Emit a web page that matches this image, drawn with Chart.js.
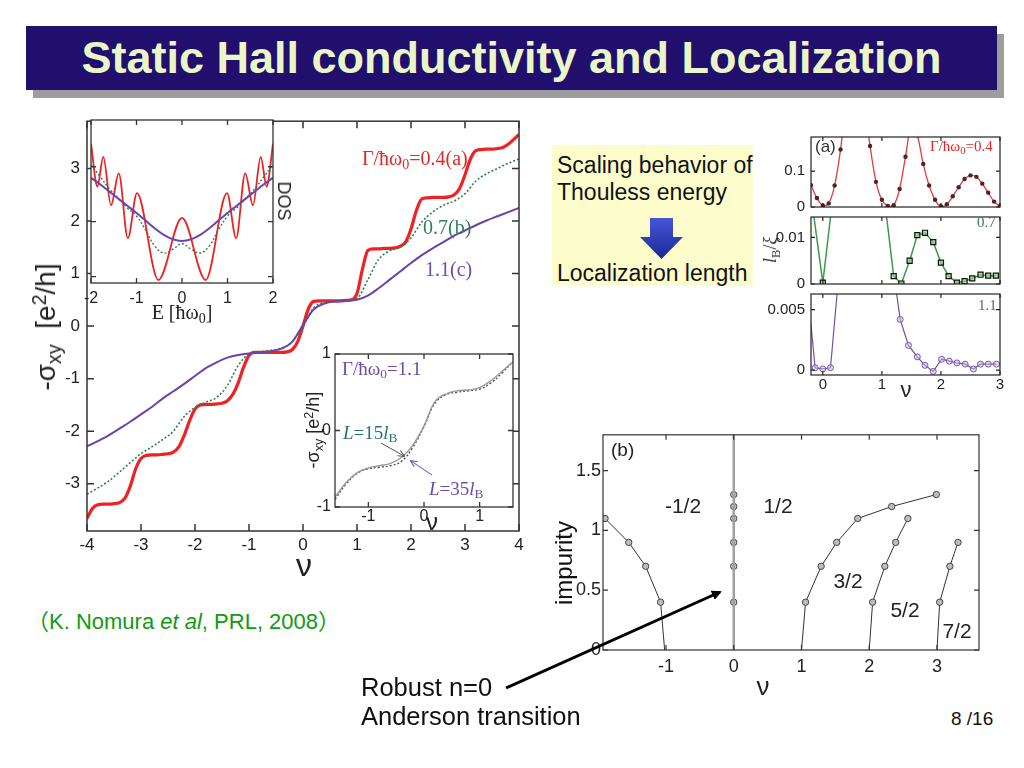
<!DOCTYPE html>
<html><head><meta charset="utf-8">
<script src="https://cdn.jsdelivr.net/npm/chart.js@4.4.0/dist/chart.umd.min.js"></script>
<style>
body{margin:0;width:1024px;height:768px;background:#fff;position:relative;overflow:hidden;font-family:"Liberation Sans",Arial,sans-serif;}
canvas{position:absolute;}
.t{position:absolute;white-space:nowrap;line-height:1;}
.c{transform:translate(-50%,-50%);}
.l{transform:translateY(-50%);}
.serif{font-family:"Liberation Serif","Times New Roman",serif;}
sub{font-size:0.7em;vertical-align:-0.3em;line-height:0;}
sup{font-size:0.7em;vertical-align:0.45em;line-height:0;}
#title{position:absolute;left:26px;top:26px;width:971px;height:64px;background:#200f6c;box-shadow:7px 8px 0 #9d9d9d;color:#eaf6c8;font-weight:bold;font-size:45px;text-align:center;line-height:64px;}
#box{position:absolute;left:552px;top:145px;width:201px;height:140px;background:#fdfdcb;}
</style></head><body>
<div id="title">Static Hall conductivity and Localization</div>

<canvas id="cMain" width="492" height="460" style="left:40px;top:104px"></canvas>
<canvas id="cDos" width="215" height="206" style="left:70px;top:110px"></canvas>
<canvas id="cIns" width="230" height="190" style="left:296px;top:340px"></canvas>
<canvas id="cA1" width="246" height="100" style="left:766px;top:122px"></canvas>
<canvas id="cA2" width="246" height="97" style="left:766px;top:202px"></canvas>
<canvas id="cA3" width="246" height="118" style="left:766px;top:279px"></canvas>
<canvas id="cB" width="440" height="255" style="left:552px;top:422px"></canvas>

<div id="box"></div>
<div class="t l" style="left:557px;top:165px;font-size:23px;color:#111">Scaling behavior of</div>
<div class="t l" style="left:557px;top:192px;font-size:23px;color:#111">Thouless energy</div>
<div class="t l" style="left:557px;top:273px;font-size:23px;color:#111">Localization length</div>

<!-- main chart texts -->
<div class="t c" style="left:46px;top:327px;font-size:28px;color:#222;transform:translate(-50%,-50%) rotate(-90deg)">-σ<sub>xy</sub>&nbsp; [e<sup>2</sup>/h]</div>
<div class="t c" style="left:304px;top:565px;font-size:32px;color:#222">ν</div>
<div class="t l serif" style="left:362px;top:158px;font-size:20px;color:#e02828">Γ/ħω<sub>0</sub>=0.4(a)</div>
<div class="t l serif" style="left:423px;top:227px;font-size:20px;color:#2f7f55">0.7(b)</div>
<div class="t l serif" style="left:425px;top:269px;font-size:20px;color:#6c4cab">1.1(c)</div>
<!-- DOS inset texts -->
<div class="t c serif" style="left:182px;top:312px;font-size:20px;color:#222">E [ħω<sub>0</sub>]</div>
<div class="t c" style="left:284px;top:201px;font-size:18px;color:#222;transform:translate(-50%,-50%) rotate(90deg)">DOS</div>
<!-- inset 2 texts -->
<div class="t l serif" style="left:342px;top:368px;font-size:19px;color:#6c4cab">Γ/ħω<sub>0</sub>=1.1</div>
<div class="t l serif" style="left:343px;top:432px;font-size:19px;color:#2b6f7c"><i>L</i>=15<i>l</i><sub>B</sub></div>
<div class="t l serif" style="left:429px;top:488px;font-size:19px;color:#6c4cab"><i>L</i>=35<i>l</i><sub>B</sub></div>
<div class="t c" style="left:313px;top:430px;font-size:18px;color:#222;transform:translate(-50%,-50%) rotate(-90deg)">-σ<sub>xy</sub> [e<sup>2</sup>/h]</div>
<div class="t c" style="left:432px;top:522px;font-size:24px;color:#222">ν</div>
<!-- panel (a) texts -->
<div class="t l" style="left:815px;top:146px;font-size:17px;color:#333">(a)</div>
<div class="t l serif" style="left:930px;top:146px;font-size:15px;color:#e02828">Γ/ħω<sub>0</sub>=0.4</div>
<div class="t l serif" style="left:977px;top:222px;font-size:15px;color:#2f7f55">0.7</div>
<div class="t l serif" style="left:978px;top:305px;font-size:15px;color:#6c4cab">1.1</div>
<div class="t c serif" style="left:770px;top:250px;font-size:18px;color:#333;transform:translate(-50%,-50%) rotate(-90deg)"><i>l</i><sub>B</sub>/<i>ξ</i></div>
<div class="t c" style="left:906px;top:390px;font-size:22px;color:#222">ν</div>
<!-- panel (b) texts -->
<div class="t l" style="left:611px;top:449px;font-size:19px;color:#222">(b)</div>
<div class="t c" style="left:683px;top:505px;font-size:21px;color:#222">-1/2</div>
<div class="t c" style="left:778px;top:505px;font-size:21px;color:#222">1/2</div>
<div class="t c" style="left:848px;top:580px;font-size:21px;color:#222">3/2</div>
<div class="t c" style="left:905px;top:609px;font-size:21px;color:#222">5/2</div>
<div class="t c" style="left:957px;top:630px;font-size:21px;color:#222">7/2</div>
<div class="t c" style="left:763px;top:686px;font-size:26px;color:#222">ν</div>
<div class="t c" style="left:564px;top:563px;font-size:24px;color:#111;background:#fff;padding:0 2px;transform:translate(-50%,-50%) rotate(-90deg)">impurity</div>

<div class="t l" style="left:27px;top:622px;font-size:22px;color:#119a11;font-family:'Liberation Sans','Noto Sans CJK JP',sans-serif">（K. Nomura <i>et al</i>, PRL, 2008）</div>
<div class="t l" style="left:361px;top:688px;font-size:25.5px;color:#111">Robust n=0</div>
<div class="t l" style="left:361px;top:717px;font-size:25.5px;color:#111">Anderson transition</div>
<div class="t l" style="left:951px;top:718px;font-size:19px;color:#111">8 /16</div>

<svg width="1024" height="768" style="position:absolute;left:0;top:0;pointer-events:none">
<defs>
<marker id="ah" markerWidth="10" markerHeight="10" refX="8" refY="5" orient="auto" markerUnits="userSpaceOnUse"><path d="M0,0 L10,5 L0,10 z" fill="#000"/></marker>
<marker id="ahs" markerWidth="7" markerHeight="7" refX="6" refY="3.5" orient="auto" markerUnits="userSpaceOnUse"><path d="M0,0.5 L7,3.5 L0,6.5" fill="none" stroke="#555" stroke-width="1"/></marker>
<marker id="ahp" markerWidth="7" markerHeight="7" refX="6" refY="3.5" orient="auto" markerUnits="userSpaceOnUse"><path d="M0,0.5 L7,3.5 L0,6.5" fill="none" stroke="#6c4cab" stroke-width="1"/></marker>
<linearGradient id="bg" x1="0" y1="0" x2="0" y2="1"><stop offset="0" stop-color="#4656d6"/><stop offset="1" stop-color="#1b2896"/></linearGradient>
</defs>
<polygon points="650,218 673,218 673,237 683,237 661.5,259 640,237 650,237" fill="url(#bg)"/>
<line x1="506" y1="688" x2="720" y2="592" stroke="#000" stroke-width="3" marker-end="url(#ah)"/>
<line x1="381" y1="443" x2="404" y2="456" stroke="#555" stroke-width="1" marker-end="url(#ahs)"/>
<line x1="432" y1="475" x2="411" y2="461" stroke="#6c4cab" stroke-width="1" marker-end="url(#ahp)"/>
</svg>

<script>
// ---------- main chart: -sigma_xy vs nu ----------
const nuFine = [-4.0,-3.9,-3.8,-3.7,-3.6,-3.5,-3.4,-3.3,-3.2,-3.1,-3.0,-2.9,-2.8,-2.7,-2.6,-2.5,-2.4,-2.3,-2.2,-2.1,-2.0,-1.9,-1.8,-1.7,-1.6,-1.5,-1.4,-1.3,-1.2,-1.1,-1.0,-0.9,-0.8,-0.7,-0.6,-0.5,-0.4,-0.3,-0.2,-0.1,0.0,0.1,0.2,0.3,0.4,0.5,0.6,0.7,0.8,0.9,1.0,1.1,1.2,1.3,1.4,1.5,1.6,1.7,1.8,1.9,2.0,2.1,2.2,2.3,2.4,2.5,2.6,2.7,2.8,2.9,3.0,3.1,3.2,3.3,3.4,3.5,3.6,3.7,3.8,3.9,4.0];
const sigmaRed = [-3.66,-3.47,-3.40,-3.39,-3.39,-3.38,-3.36,-3.28,-3.05,-2.72,
  -2.52,-2.46,-2.45,-2.45,-2.44,-2.43,-2.40,-2.30,-2.08,-1.80,
  -1.58,-1.50,-1.49,-1.49,-1.48,-1.47,-1.42,-1.30,-1.08,-0.78,
  -0.56,-0.50,-0.50,-0.50,-0.50,-0.50,-0.50,-0.49,-0.45,-0.30,
  0.00,
  0.33,0.47,0.48,0.48,0.48,0.48,0.48,0.49,0.50,0.62,
  1.08,1.44,1.47,1.47,1.48,1.48,1.49,1.52,1.60,1.85,
  2.20,2.42,2.44,2.45,2.45,2.45,2.46,2.50,2.62,2.88,
  3.18,3.34,3.36,3.37,3.37,3.38,3.40,3.46,3.55,3.65];
const nuCoarse = [-4.0,-3.8,-3.6,-3.4,-3.2,-3.0,-2.8,-2.6,-2.4,-2.2,-2.0,-1.8,-1.6,-1.4,-1.2,-1.0,-0.8,-0.6,-0.4,-0.2,0.0,0.2,0.4,0.6,0.8,1.0,1.2,1.4,1.6,1.8,2.0,2.2,2.4,2.6,2.8,3.0,3.2,3.4,3.6,3.8,4.0];
const sigmaGreen = [-3.20,-3.08,-2.95,-2.78,-2.60,-2.43,-2.30,-2.16,-2.00,-1.72,-1.55,-1.45,-1.36,-1.13,-0.75,-0.53,-0.49,-0.46,-0.42,-0.30,0.00,0.35,0.45,0.48,0.50,0.53,0.88,1.27,1.43,1.50,1.68,1.98,2.17,2.30,2.38,2.52,2.76,2.90,3.00,3.10,3.18];
const sigmaPurple = [-2.29,-2.19,-2.08,-1.95,-1.82,-1.68,-1.54,-1.38,-1.24,-1.10,-0.95,-0.80,-0.69,-0.60,-0.55,-0.52,-0.50,-0.48,-0.43,-0.30,0.02,0.32,0.43,0.47,0.48,0.50,0.58,0.72,0.88,1.04,1.20,1.35,1.48,1.60,1.72,1.82,1.92,2.01,2.09,2.17,2.25];
const mainXTicks = [-4,-3,-2,-1,0,1,2,3,4];
const mainYTicks = [-3,-2,-1,0,1,2,3];

// ---------- DOS inset ----------
const dosERed = [-2.0,-1.86,-1.73,-1.56,-1.39,-1.19,-0.99,-0.52,0,0.52,0.99,1.19,1.39,1.56,1.73,1.86,2.0];
const dosRed  = [3.42,2.64,3.18,2.30,2.88,1.70,2.52,0.94,2.07,0.94,2.52,1.70,2.88,2.30,3.18,2.64,3.42];
const dosE = [-2.0,-1.8,-1.6,-1.4,-1.2,-1.0,-0.8,-0.6,-0.4,-0.2,0.0,0.2,0.4,0.6,0.8,1.0,1.2,1.4,1.6,1.8,2.0];
const dosGreen  = [3.03,2.82,2.60,2.42,2.25,2.10,1.85,1.56,1.43,1.50,1.60,1.50,1.43,1.56,1.85,2.10,2.25,2.42,2.60,2.82,3.03];
const dosPurple = [2.80,2.68,2.55,2.42,2.29,2.16,2.02,1.88,1.76,1.68,1.65,1.68,1.76,1.88,2.02,2.16,2.29,2.42,2.55,2.68,2.80];
const dosXTicks = [-2,-1,0,1,2];
const dosYTicks = [1,2,3];

// ---------- size-dependence inset ----------
const insNu = [-1.6,-1.4,-1.2,-1.0,-0.8,-0.6,-0.4,-0.2,0.0,0.2,0.4,0.6,0.8,1.0,1.2,1.4,1.6];
const insL15 = [-0.87,-0.68,-0.55,-0.49,-0.46,-0.43,-0.35,-0.19,0.06,0.38,0.48,0.52,0.53,0.56,0.65,0.77,0.90];
const insL35 = [-0.90,-0.70,-0.56,-0.50,-0.48,-0.46,-0.40,-0.22,0.05,0.36,0.47,0.50,0.52,0.54,0.62,0.75,0.90];
const insXTicks = [-1,0,1];
const insYTicks = [-1,0,1];

// ---------- panel (a): l_B/xi ----------
const aNuRed = [-0.2,-0.1,0.0,0.1,0.2,0.3,0.4,0.5,0.6,0.7,0.8,0.9,1.0,1.1,1.2,1.3,1.4,1.5,1.6,1.7,1.8,1.9,2.0,2.1,2.2,2.3,2.4,2.5,2.6,2.7,2.8,2.9,3.0];
const aRed = [0.061,0.025,0.004,0.010,0.060,0.160,0.300,0.400,0.400,0.300,0.170,0.070,0.020,0.003,0.005,0.050,0.140,0.230,0.200,0.120,0.060,0.020,0.002,0.008,0.030,0.055,0.078,0.088,0.084,0.065,0.040,0.015,0.002];
const aNuGreen = [-0.27,0.0,0.27,0.93,1.2,1.33,1.47,1.6,1.73,1.87,2.0,2.13,2.27,2.4,2.53,2.67,2.8,2.93];
const aGreen = [0.0257,0.0003,0.0295,0.0303,0.0017,0.0001,0.0050,0.0105,0.0110,0.0090,0.0046,0.0017,0.0003,0.0006,0.0012,0.0020,0.0018,0.0018];
const aNuPurple = [-0.27,-0.13,0.0,0.13,0.27,1.17,1.31,1.45,1.6,1.73,1.87,2.01,2.14,2.27,2.41,2.55,2.67,2.8,2.94];
const aPurple = [0.0072,0.0002,0.0001,0.0002,0.0079,0.0091,0.0042,0.00205,0.0011,0.0004,-0.0001,0.0009,0.00075,0.0006,0.0005,0.0001,0.0005,0.0005,0.0005];
const aXTicks = [0,1,2,3];
const a1YTicks = [0,0.1];
const a2YTicks = [0,0.01];
const a3YTicks = [0,0.005];

// ---------- panel (b): phase diagram ----------
const bNuM1 = [-1.02,-1.08,-1.30,-1.55,-1.90];  const bImpM1 = [0,0.4,0.7,0.9,1.1];
const bNu0  = [0,0,0,0,0,0];                     const bImp0  = [0.4,0.7,0.9,1.1,1.2,1.3];
const bNu0Line = [0,0];                          const bImp0Line = [0,1.8];
const bNu1  = [1.0,1.06,1.29,1.52,1.83,2.33,2.99]; const bImp1 = [0,0.4,0.7,0.9,1.1,1.2,1.3];
const bNu2  = [2.0,2.05,2.23,2.39,2.57];         const bImp2 = [0,0.4,0.7,0.9,1.1];
const bNu3  = [3.0,3.04,3.19,3.31];              const bImp3 = [0,0.4,0.7,0.9];
const bXTicks = [-1,0,1,2,3];
const bYTicks = [0,0.5,1,1.5];

// ---------- helpers ----------
Chart.defaults.font.family = "'Liberation Sans', Arial, sans-serif";
Chart.defaults.color = '#222';
const pts = (xs, ys) => xs.map((x, i) => ({x: x, y: ys[i]}));

const framePlugin = {
  id: 'frame',
  beforeDraw(chart, args, o) {
    if (!o.fill) return;
    const a = chart.chartArea, c = chart.ctx;
    c.save(); c.fillStyle = o.fill; c.fillRect(a.left, a.top, a.right - a.left, a.bottom - a.top); c.restore();
  },
  afterDraw(chart, args, o) {
    const a = chart.chartArea, c = chart.ctx, xs = chart.scales.x, ys = chart.scales.y;
    const L = o.len || 6;
    c.save();
    c.strokeStyle = o.color || '#222'; c.lineWidth = o.width || 1.2;
    c.strokeRect(a.left, a.top, a.right - a.left, a.bottom - a.top);
    c.beginPath();
    (o.xt || []).forEach(v => {
      const p = xs.getPixelForValue(v);
      c.moveTo(p, a.bottom); c.lineTo(p, a.bottom - L);
      c.moveTo(p, a.top); c.lineTo(p, a.top + L);
    });
    (o.yt || []).forEach(v => {
      const p = ys.getPixelForValue(v);
      c.moveTo(a.left, p); c.lineTo(a.left + L, p);
      c.moveTo(a.right, p); c.lineTo(a.right - L, p);
    });
    c.stroke(); c.restore();
  }
};

function axis(o) {
  return {
    type: 'linear', min: o.min, max: o.max, display: o.display !== false,
    grid: {display: false, drawTicks: false}, border: {display: false},
    afterBuildTicks: s => { s.ticks = o.ticks.map(v => ({value: v})); },
    afterFit: s => { if (o.size !== undefined) { if (s.isHorizontal()) s.height = o.size; else s.width = o.size; } },
    ticks: {display: o.labels !== false, autoSkip: false, maxRotation: 0, padding: o.pad || 0,
      font: {size: o.font || 16}, color: '#222', callback: v => String(v)}
  };
}

function make(id, datasets, o) {
  return new Chart(document.getElementById(id), {
    type: 'line',
    data: {datasets: datasets},
    options: {
      responsive: false, animation: false, devicePixelRatio: 1,
      layout: {padding: o.padding},
      plugins: {legend: {display: false}, tooltip: {enabled: false}, frame: o.frame},
      elements: {point: {radius: 0}},
      scales: {x: axis(o.x), y: axis(o.y)}
    },
    plugins: [framePlugin]
  });
}

const RED = '#ee2222', GREEN = '#2f7f55', PURPLE = '#6a44aa';

// main
make('cMain', [
  {data: pts(nuCoarse, sigmaPurple), borderColor: PURPLE, borderWidth: 2, cubicInterpolationMode: 'monotone'},
  {data: pts(nuCoarse, sigmaGreen), borderColor: GREEN, borderWidth: 1.6, borderDash: [2, 2], cubicInterpolationMode: 'monotone'},
  {data: pts(nuFine, sigmaRed), borderColor: RED, borderWidth: 3.2, cubicInterpolationMode: 'monotone'}
], {
  padding: {left: 0, top: 12, right: 13, bottom: 0},
  x: {min: -4, max: 4, ticks: mainXTicks, size: 33, pad: 4, font: 17},
  y: {min: -3.9, max: 3.9, ticks: mainYTicks, size: 47, pad: 7, font: 17},
  frame: {xt: mainXTicks, yt: mainYTicks, len: 7, width: 1.5, color: '#333'}
});

// DOS inset
make('cDos', [
  {data: pts(dosE, dosPurple), borderColor: PURPLE, borderWidth: 2, tension: 0.4},
  {data: pts(dosE, dosGreen), borderColor: GREEN, borderWidth: 1.4, borderDash: [2, 2], tension: 0.4},
  {data: pts(dosERed, dosRed), borderColor: RED, borderWidth: 1.8, cubicInterpolationMode: 'monotone'}
], {
  padding: {left: 21, top: 10, right: 12, bottom: 0},
  x: {min: -2, max: 2, ticks: dosXTicks, size: 33, pad: 6, font: 16},
  y: {min: 0.885, max: 3.85, ticks: dosYTicks, display: false},
  frame: {xt: dosXTicks, yt: dosYTicks, len: 5, width: 1.3, color: '#333', fill: '#fff'}
});

// size inset
make('cIns', [
  {data: pts(insNu, insL15), borderColor: '#9a9a9a', borderWidth: 1.4, tension: 0.4},
  {data: pts(insNu, insL35), borderColor: '#555', borderWidth: 1.4, borderDash: [2, 2], tension: 0.4}
], {
  padding: {left: 0, top: 14, right: 13, bottom: 0},
  x: {min: -1.6, max: 1.6, ticks: insXTicks, size: 23, pad: 0, font: 16},
  y: {min: -1, max: 1, ticks: insYTicks, size: 39, pad: 4, font: 16},
  frame: {xt: insXTicks, yt: insYTicks, len: 5, width: 1.3, color: '#333', fill: '#fff'}
});

// panel (a)
make('cA1', [
  {data: pts(aNuRed, aRed), borderColor: '#e83a3a', borderWidth: 1.3, tension: 0.3,
   pointRadius: 2.2, pointBackgroundColor: '#4a2525', pointBorderColor: '#4a2525', pointBorderWidth: 0}
], {
  padding: {left: 0, top: 10, right: 12, bottom: 10},
  x: {min: -0.2, max: 3, ticks: aXTicks, display: false},
  y: {min: 0, max: 0.195, ticks: a1YTicks, size: 45, pad: 6, font: 15},
  frame: {xt: aXTicks, yt: a1YTicks, len: 4, width: 1.2, color: '#222'}
});
make('cA2', [
  {data: pts(aNuGreen, aGreen), borderColor: '#3c9a4a', borderWidth: 1.5, tension: 0,
   pointRadius: 3.6, pointStyle: 'rect', pointBackgroundColor: 'rgba(150,210,140,0.7)', pointBorderColor: '#111', pointBorderWidth: 1.2}
], {
  padding: {left: 0, top: 10, right: 12, bottom: 10},
  x: {min: -0.2, max: 3, ticks: aXTicks, display: false},
  y: {min: 0, max: 0.0144, ticks: a2YTicks, size: 45, pad: 6, font: 15},
  frame: {xt: aXTicks, yt: a2YTicks, len: 4, width: 1.2, color: '#222'}
});
make('cA3', [
  {data: pts(aNuPurple, aPurple), borderColor: '#7050a8', borderWidth: 1.2, tension: 0,
   pointRadius: 3, pointBackgroundColor: 'rgba(200,185,225,0.5)', pointBorderColor: '#7a5aa8', pointBorderWidth: 1}
], {
  padding: {left: 0, top: 10, right: 12, bottom: 0},
  x: {min: -0.2, max: 3, ticks: aXTicks, size: 22, pad: 1, font: 15},
  y: {min: -0.0004, max: 0.0063, ticks: a3YTicks, size: 45, pad: 6, font: 15},
  frame: {xt: aXTicks, yt: a3YTicks, len: 4, width: 1.2, color: '#222'}
});

// panel (b)
const bLine = {borderColor: '#333', borderWidth: 1, tension: 0, pointBackgroundColor: '#bdbdbd', pointBorderColor: '#444', pointBorderWidth: 1};
const rad = n => [0].concat(Array(n - 1).fill(3.2));
make('cB', [
  {data: pts(bNu0Line, bImp0Line), borderColor: '#a0a0a0', borderWidth: 2.5, pointRadius: 0},
  {data: pts(bNu0, bImp0), showLine: false, pointRadius: 3.2, pointBackgroundColor: '#bdbdbd', pointBorderColor: '#444', pointBorderWidth: 1},
  Object.assign({data: pts(bNuM1, bImpM1), pointRadius: rad(bNuM1.length)}, bLine),
  Object.assign({data: pts(bNu1, bImp1), pointRadius: rad(bNu1.length)}, bLine),
  Object.assign({data: pts(bNu2, bImp2), pointRadius: rad(bNu2.length)}, bLine),
  Object.assign({data: pts(bNu3, bImp3), pointRadius: rad(bNu3.length)}, bLine)
], {
  padding: {left: 0, top: 12, right: 13, bottom: 0},
  x: {min: -1.93, max: 3.62, ticks: bXTicks, size: 27, pad: 6, font: 18},
  y: {min: 0, max: 1.8, ticks: bYTicks, size: 51, pad: 2, font: 18},
  frame: {xt: bXTicks, yt: bYTicks, len: 5, width: 1.2, color: '#333'}
});
</script>
</body></html>
